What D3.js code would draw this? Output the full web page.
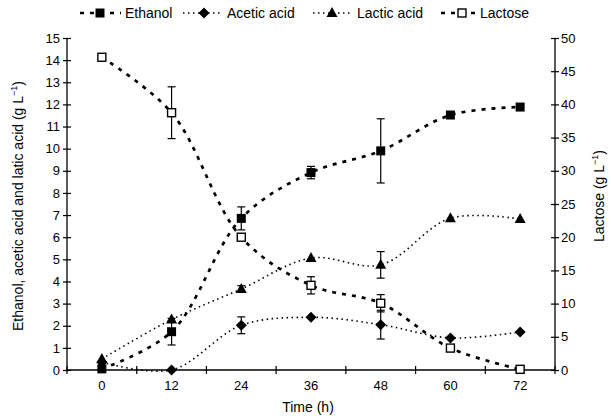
<!DOCTYPE html>
<html><head><meta charset="utf-8">
<script src="https://cdn.jsdelivr.net/npm/d3@7"></script>
<style>body{margin:0;background:#fff}text{font-family:"Liberation Sans",Arial,sans-serif;fill:#000}</style>
</head><body><svg id="c" width="611" height="416"></svg>
<script>
const times = [0, 12, 24, 36, 48, 60, 72];
const ethanol = [0.05, 1.73, 6.85, 8.92, 9.9, 11.52, 11.88];
const ethanolErr = [0, 0.6, 0.52, 0.28, 1.45, 0, 0];
const acetic = [0.35, 0, 2.02, 2.38, 2.05, 1.45, 1.72];
const aceticErr = [0, 0, 0.38, 0, 0.65, 0, 0];
const lactic = [0.5, 2.28, 3.66, 5.06, 4.75, 6.86, 6.82];
const lacticErr = [0, 0, 0.15, 0, 0.6, 0, 0];
const lactose = [47.1, 38.75, 20.0, 12.75, 10.05, 3.3, 0.1];
const lactoseErr = [0, 3.9, 0, 1.3, 1.3, 0, 0];
const leftTicks = d3.range(0, 16, 1);
const rightTicks = d3.range(0, 51, 5);

const svg = d3.select("#c");
const L = 67, R = 555, T = 38, B = 370;
const x = d3.scaleBand().domain(times).range([L, R]).padding(0);
const yL = d3.scaleLinear().domain([0, 15]).range([B, T]);
const yR = d3.scaleLinear().domain([0, 50]).range([B, T]);
const cx = t => x(t) + x.bandwidth() / 2;

// axes
const fs = "13px";
const gx = svg.append("g").attr("transform", `translate(0,${B})`)
  .call(d3.axisBottom(x).tickSize(0).tickPadding(11));
gx.select(".domain").attr("stroke", "#000").attr("stroke-width", 1.3).attr("d", `M${L},0H${R}`);
gx.selectAll("text").style("font-size", fs);
const edges = times.map(t => x(t)).concat([R]);
gx.selectAll(".edge").data(edges).enter().append("line")
  .attr("x1", d => d).attr("x2", d => d).attr("y1", -4).attr("y2", 4)
  .attr("stroke", "#000").attr("stroke-width", 1.2);

const gl = svg.append("g").attr("transform", `translate(${L},0)`)
  .call(d3.axisLeft(yL).tickValues(leftTicks).tickSize(0).tickPadding(7));
gl.select(".domain").attr("stroke", "#000").attr("stroke-width", 1.3).attr("d", `M0,${B}V${T}`);
gl.selectAll("text").style("font-size", fs);
gl.selectAll(".tick").append("line").attr("x1", -4).attr("x2", 4).attr("stroke", "#000").attr("stroke-width", 1.2);

const gr = svg.append("g").attr("transform", `translate(${R},0)`)
  .call(d3.axisRight(yR).tickValues(rightTicks).tickSize(0).tickPadding(6));
gr.select(".domain").attr("stroke", "#000").attr("stroke-width", 1.3).attr("d", `M0,${B}V${T}`);
gr.selectAll("text").style("font-size", fs);
gr.selectAll(".tick").append("line").attr("x1", -4).attr("x2", 4).attr("stroke", "#000").attr("stroke-width", 1.2);

// titles
svg.append("text").attr("x", 308).attr("y", 412).attr("text-anchor", "middle").style("font-size", "14px").text("Time (h)");
const tl = svg.append("text").attr("transform", "translate(23,206) rotate(-90)").attr("text-anchor", "middle").style("font-size", "14px");
tl.append("tspan").text("Ethanol, acetic acid and latic acid (g L");
tl.append("tspan").attr("dy", -6).style("font-size", "9px").text("−1");
tl.append("tspan").attr("dy", 6).text(")");
const tr = svg.append("text").attr("transform", "translate(604,196) rotate(-90)").attr("text-anchor", "middle").style("font-size", "14px");
tr.append("tspan").text("Lactose (g L");
tr.append("tspan").attr("dy", -6).style("font-size", "9px").text("−1");
tr.append("tspan").attr("dy", 6).text(")");

// series
const series = [
  {name: "Ethanol", vals: ethanol, err: ethanolErr, y: yL, dash: "4,6", w: 2.7, sym: "sq"},
  {name: "Acetic acid", vals: acetic, err: aceticErr, y: yL, dash: "1.5,3.5", w: 1.6, sym: "dia"},
  {name: "Lactic acid", vals: lactic, err: lacticErr, y: yL, dash: "1.5,3.5", w: 1.6, sym: "tri"},
  {name: "Lactose", vals: lactose, err: lactoseErr, y: yR, dash: "4,6", w: 2.7, sym: "open"}
];
function drawSym(g, sym, px, py) {
  if (sym === "sq") g.append("rect").attr("x", px - 4.5).attr("y", py - 4.5).attr("width", 9).attr("height", 9).attr("fill", "#000");
  else if (sym === "open") g.append("rect").attr("x", px - 4).attr("y", py - 4).attr("width", 8).attr("height", 8).attr("fill", "#fff").attr("stroke", "#000").attr("stroke-width", 1.4);
  else if (sym === "dia") g.append("path").attr("d", `M${px},${py-5.5}L${px+5.5},${py}L${px},${py+5.5}L${px-5.5},${py}Z`).attr("fill", "#000");
  else g.append("path").attr("d", `M${px},${py-6}L${px+5.5},${py+4}L${px-5.5},${py+4}Z`).attr("fill", "#000");
}
const plot = svg.append("g");
series.forEach(s => {
  const line = d3.line().x((d, i) => cx(times[i])).y(d => s.y(d)).curve(d3.curveCatmullRom.alpha(0.5));
  plot.append("path").attr("d", line(s.vals)).attr("fill", "none").attr("stroke", "#000")
    .attr("stroke-width", s.w).attr("stroke-dasharray", s.dash);
});
series.forEach(s => {
  s.vals.forEach((v, i) => {
    const e = s.err[i];
    if (e > 0) {
      const px = cx(times[i]);
      plot.append("line").attr("x1", px).attr("x2", px).attr("y1", s.y(v - e)).attr("y2", s.y(v + e)).attr("stroke", "#000").attr("stroke-width", 1.2);
      [v - e, v + e].forEach(vv => plot.append("line").attr("x1", px - 4).attr("x2", px + 4).attr("y1", s.y(vv)).attr("y2", s.y(vv)).attr("stroke", "#000").attr("stroke-width", 1.2));
    }
  });
});
series.forEach(s => {
  s.vals.forEach((v, i) => drawSym(plot, s.sym, cx(times[i]), s.y(v)));
});

// legend
const legStart = [80, 183, 313, 441], legMid = [100, 204, 332, 462], legTextX = [125, 227, 357, 480];
series.forEach((s, k) => {
  const g = svg.append("g");
  g.append("line").attr("x1", legStart[k]).attr("x2", legTextX[k] - 4).attr("y1", 13).attr("y2", 13)
    .attr("stroke", "#000").attr("stroke-width", s.w).attr("stroke-dasharray", s.dash);
  drawSym(g, s.sym, legMid[k], 13);
  g.append("text").attr("x", legTextX[k]).attr("y", 18).style("font-size", "14px").text(s.name);
});
</script></body></html>
